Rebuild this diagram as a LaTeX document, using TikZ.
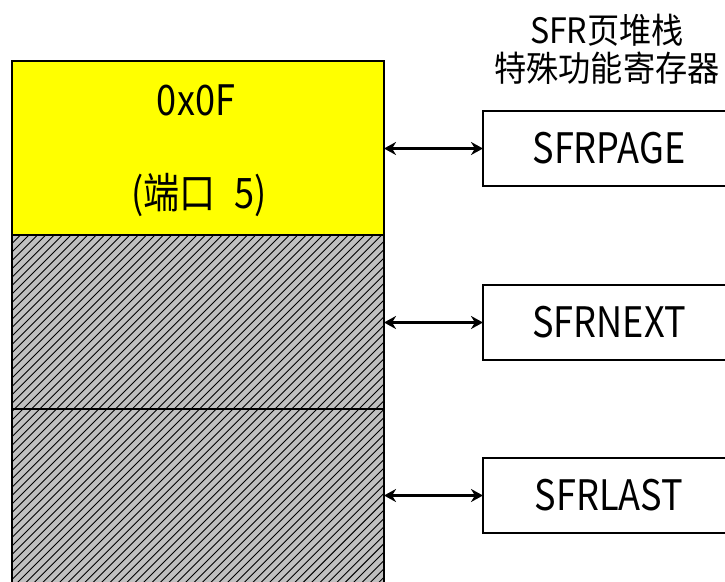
\documentclass[tikz,border=0pt]{standalone}
\usepackage{fontspec}
\setmainfont{Noto Sans CJK SC}
\newfontfamily\narrowfont[FakeStretch=0.86]{Noto Sans CJK SC}
\newfontfamily\titlefont[FakeStretch=0.92]{Noto Sans CJK SC}
\usetikzlibrary{arrows.meta}
\definecolor{hatchgray}{HTML}{C0C0C0}
\definecolor{memyellow}{HTML}{FFFF00}
\tikzset{
  membox/.style={draw=black, line width=1.4pt, minimum width=372pt, minimum height=174pt, inner sep=0pt, outer sep=0pt, anchor=north west},
  regbox/.style={draw=black, line width=2.4pt, minimum width=252pt, minimum height=75pt, inner sep=0pt, outer sep=0pt, anchor=north west, font=\narrowfont\fontsize{42}{44}\selectfont},
  bigtxt/.style={font=\narrowfont\fontsize{42}{44}\selectfont, inner sep=0pt},
  titletxt/.style={font=\titlefont\fontsize{35}{38}\selectfont, inner sep=0pt},
  link/.style={line width=2.4pt, {Stealth[length=12pt,width=13pt]}-{Stealth[length=12pt,width=13pt]}}
}
\begin{document}
\begin{tikzpicture}[x=1pt,y=-1pt]
\useasboundingbox (0,0) rectangle (725,581);
\clip (0,0) rectangle (725,581);
% hatched grey blocks
\begin{scope}
  \clip (12,235) rectangle (384,590);
  \fill[hatchgray] (12,235) rectangle (384,590);
  \foreach \i in {-420,-411.6,...,400} \draw[line width=0.9pt] (\i,600) -- ++(420,-420);
\end{scope}
\node[membox, fill=memyellow] (m0) at (12,61) {};
\node[membox] (m1) at (12,235) {};
\node[membox, minimum height=180pt] (m2) at (12,409) {};
\node[bigtxt] (hex) at (196,100) {0x0F};
\node[bigtxt] (port) at (199,195) {(端口\hspace{0.45em}5)};
% title
\node[titletxt] (t1) at (607,30) {SFR页堆栈};
\node[titletxt] (t2) at (607,68) {特殊功能寄存器};
% registers
\node[regbox] (page) at (483,111) {SFRPAGE};
\node[regbox] (next) at (483,285) {SFRNEXT};
\node[regbox] (last) at (483,458) {SFRLAST};
\draw[link] (page.west -| m0.east) -- (page.west);
\draw[link] (next.west -| m1.east) -- (next.west);
\draw[link] (last.west -| m2.east) -- (last.west);
\end{tikzpicture}
\end{document}
